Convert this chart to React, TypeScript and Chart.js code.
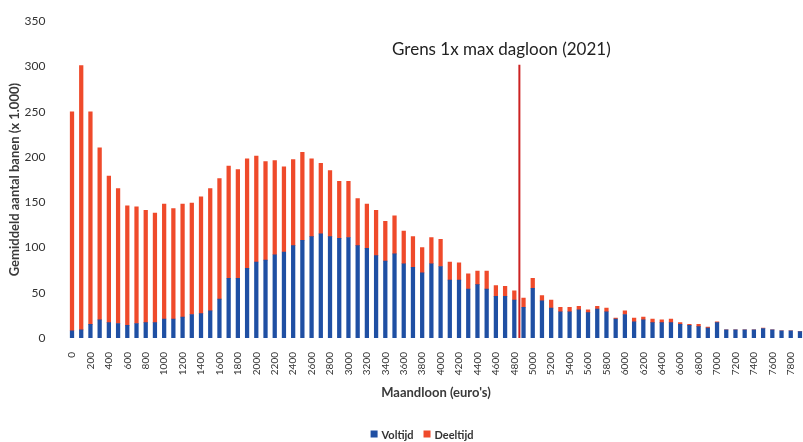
import { useEffect, useRef } from 'react';
import { Chart, registerables } from 'chart.js';

Chart.register(...registerables);

// Maandloon categories (euro's), one bar per 100 euro
const categories = [
  0, 100, 200, 300, 400, 500, 600, 700, 800, 900,
  1000, 1100, 1200, 1300, 1400, 1500, 1600, 1700, 1800, 1900,
  2000, 2100, 2200, 2300, 2400, 2500, 2600, 2700, 2800, 2900,
  3000, 3100, 3200, 3300, 3400, 3500, 3600, 3700, 3800, 3900,
  4000, 4100, 4200, 4300, 4400, 4500, 4600, 4700, 4800, 4900,
  5000, 5100, 5200, 5300, 5400, 5500, 5600, 5700, 5800, 5900,
  6000, 6100, 6200, 6300, 6400, 6500, 6600, 6700, 6800, 6900,
  7000, 7100, 7200, 7300, 7400, 7500, 7600, 7700, 7800, 7900,
];

// Gemiddeld aantal banen (x 1.000)
const voltijd = [
  8, 9, 15, 20, 17, 16, 14, 16, 17, 17,
  21, 21, 23, 26, 27, 30, 43, 66, 66, 77,
  84, 86, 92, 95, 102, 108, 112, 115, 112, 110,
  111, 102, 99, 91, 85, 93, 82, 78, 72, 82,
  79, 64, 64, 54, 59, 54, 46, 46, 42, 34,
  55, 41, 33, 29, 29, 31, 28, 32, 29, 21,
  26, 18, 20, 17, 17, 17, 15, 14, 12.5, 11,
  17, 9, 9, 9, 9, 10.5, 9, 8, 8, 7,
];

const deeltijd = [
  242, 292, 235, 190, 162, 149, 132, 129, 124, 121,
  127, 122, 125, 123, 129, 135, 133, 124, 120, 121,
  117, 109, 104, 94, 95, 97, 86, 78, 73, 63,
  62, 52, 49, 50, 44, 42, 36, 34, 28, 29,
  30, 20, 19, 17, 15, 20, 12, 11, 10, 10,
  11, 6, 9, 5, 5, 4, 3, 3, 4, 1,
  4, 4, 3, 4, 3, 4, 2, 1, 2.5, 1,
  1, 0, 0, 0, 0, 0.5, 0, 0, 0, 0,
];

const yTicks = [0, 50, 100, 150, 200, 250, 300, 350];

const seriesNames = ['Voltijd', 'Deeltijd'];
const grensLoon = 4855;
const grensTop = 302;
const grensLabel = 'Grens 1x max dagloon (2021)';

const BLUE = '#1f4fa3';
const RED = '#ef4a2b';
const LINE = '#cc2222';
const FONT = 'Lato';

const overlay = {
  id: 'overlay',
  afterDatasetsDraw(chart: any) {
    const { ctx, scales } = chart;
    const x = scales.x;
    const y = scales.y;
    let idx = 0;
    for (let i = 0; i < categories.length - 1; i++) {
      if (categories[i] <= grensLoon && grensLoon < categories[i + 1]) {
        idx = i + (grensLoon - categories[i]) / (categories[i + 1] - categories[i]);
        break;
      }
    }
    const px = x.getPixelForValue(idx);
    const yTop = y.getPixelForValue(grensTop);
    const yBot = y.getPixelForValue(0);
    ctx.save();
    ctx.strokeStyle = LINE;
    ctx.lineWidth = 2;
    ctx.beginPath();
    ctx.moveTo(px, yTop);
    ctx.lineTo(px, yBot);
    ctx.stroke();
    ctx.fillStyle = '#222';
    ctx.font = `17px ${FONT}`;
    ctx.textAlign = 'center';
    ctx.textBaseline = 'middle';
    ctx.fillText(grensLabel, px - 18, yTop - 15);

    // legend
    ctx.font = `bold 11px ${FONT}`;
    ctx.textAlign = 'left';
    const sq = 7;
    const gap = 4;
    const itemGap = 10;
    const colors = [BLUE, RED];
    const widths = seriesNames.map((n) => sq + gap + ctx.measureText(n).width);
    const total = widths.reduce((a, b) => a + b, 0) + itemGap * (seriesNames.length - 1);
    let lx = 422 - total / 2;
    const ly = 434;
    seriesNames.forEach((n, i) => {
      ctx.fillStyle = colors[i];
      ctx.fillRect(lx, ly - sq / 2, sq, sq);
      ctx.fillStyle = '#333';
      ctx.fillText(n, lx + sq + gap, ly + 1);
      lx += widths[i] + itemGap;
    });
    ctx.restore();
  },
};

export default function App() {
  const ref = useRef<HTMLCanvasElement>(null);
  useEffect(() => {
    document.body.style.overflow = 'hidden';
    document.documentElement.style.overflow = 'hidden';
    Chart.defaults.font.family = FONT;
    const chart = new Chart(ref.current!, {
      type: 'bar',
      data: {
        labels: categories.map(String),
        datasets: [
          { label: seriesNames[0], data: voltijd, backgroundColor: BLUE, barThickness: 3.6, stack: 's' },
          { label: seriesNames[1], data: deeltijd, backgroundColor: RED, barThickness: 3.6, stack: 's' },
        ],
      },
      options: {
        responsive: false,
        animation: false,
        layout: { padding: { top: 20, right: 5, bottom: 30, left: 0 } },
        plugins: { legend: { display: false }, tooltip: { enabled: false } },
        scales: {
          x: {
            stacked: true,
            grid: { display: false },
            border: { display: false },
            ticks: {
              autoSkip: false,
              minRotation: 90,
              maxRotation: 90,
              padding: 6,
              font: { size: 10 },
              color: '#333',
              callback: (_v: any, i: number) => (i % 2 === 0 ? String(categories[i]) : ''),
            },
            title: {
              display: true,
              text: "Maandloon (euro's)",
              font: { size: 13, weight: 'bold' },
              color: '#3a3a3a',
              padding: { top: 0, bottom: 11 },
            },
            afterFit: (s: any) => {
              s.height = 74;
            },
          },
          y: {
            stacked: true,
            min: 0,
            max: 350,
            grid: { display: false },
            border: { display: false },
            afterBuildTicks: (s: any) => {
              s.ticks = yTicks.map((v) => ({ value: v }));
            },
            ticks: { padding: 14, font: { size: 12 }, color: '#333' },
            title: {
              display: true,
              text: 'Gemiddeld aantal banen (x 1.000)',
              font: { size: 13, weight: 'bold' },
              color: '#3a3a3a',
              padding: { top: 7, bottom: 0 },
            },
            afterFit: (s: any) => {
              s.width = 67.4;
            },
          },
        },
      } as any,
      plugins: [overlay],
    });
    return () => chart.destroy();
  }, []);
  return (
    <div style={{ position: 'fixed', left: 0, top: 0, width: 818, height: 442 }}>
      <canvas ref={ref} width={818} height={442} style={{ display: 'block', width: 818, height: 442 }} />
    </div>
  );
}
